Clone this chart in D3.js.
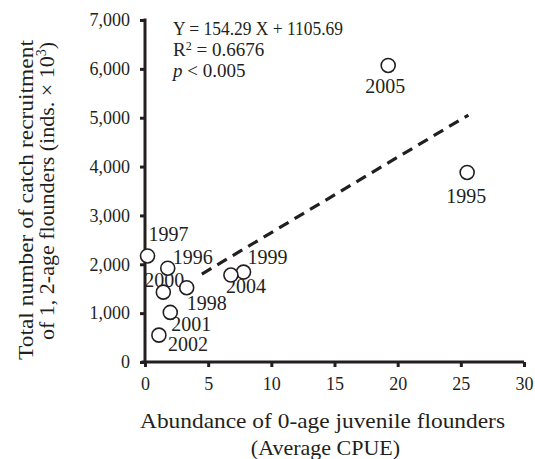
<!DOCTYPE html>
<html><head><meta charset="utf-8">
<script src="https://cdn.jsdelivr.net/npm/d3@7"></script>
<style>body{margin:0;background:#fff}svg{display:block}text{font-family:"Liberation Serif","Times New Roman",serif;fill:#231f20}</style>
</head><body>
<svg id="c" width="535" height="459"></svg>
<script>
const years = ["1995","1996","1997","1998","1999","2000","2001","2002","2004","2005"];
const cpue = [25.5, 1.8, 0.2, 3.3, 7.8, 1.45, 2.0, 1.1, 6.8, 19.25];
const recruitment = [3880, 1920, 2170, 1520, 1840, 1430, 1015, 550, 1780, 6070];
const xTicks = [0, 5, 10, 15, 20, 25, 30];
const yTicks = [0, 1000, 2000, 3000, 4000, 5000, 6000, 7000];
const slope = 154.29, intercept = 1105.69;
const fitRange = [4.5, 25.6];
const eqLines = ["Y = 154.29 X + 1105.69", "R2 = 0.6676", "p < 0.005"];
// label offsets relative to point (dx = left edge, dy = baseline)
const labelOffsets = {"1995":[-21,31],"1996":[5,-4],"1997":[1,-15],"1998":[0,22],"1999":[4,-8],"2000":[-19,-5],"2001":[1,19],"2002":[9,16],"2004":[-5,18],"2005":[-23,28]};

const svg = d3.select("#c");
const x = d3.scaleLinear().domain([0,30]).range([145,524]);
const y = d3.scaleLinear().domain([0,7000]).range([362,20]);

// axes
const xa = svg.append("g").attr("transform","translate(0,362)")
  .call(d3.axisBottom(x).tickValues(xTicks).tickSize(5).tickSizeOuter(0).tickPadding(10));
const ya = svg.append("g").attr("transform","translate(145,0)")
  .call(d3.axisLeft(y).tickValues(yTicks).tickSize(5).tickSizeOuter(0).tickPadding(10).tickFormat(d3.format(",")));
[xa,ya].forEach(a=>{
  a.select(".domain").attr("stroke","#231f20").attr("stroke-width",3);
  a.selectAll(".tick line").attr("stroke","#231f20").attr("stroke-width",3);
  a.selectAll(".tick text").style("font-size","18px").attr("fill","#231f20").style("font-family","Liberation Serif");
});
xa.select(".domain").attr("d","M141.5,0H524");
ya.select(".domain").attr("d","M0,18.5V362");

// regression line
svg.append("line")
  .attr("x1",x(fitRange[0])).attr("y1",y(slope*fitRange[0]+intercept))
  .attr("x2",x(fitRange[1])).attr("y2",y(slope*fitRange[1]+intercept))
  .attr("stroke","#231f20").attr("stroke-width",3.2).attr("stroke-dasharray","11,7");

// labels (drawn under circles)
svg.append("g").selectAll("text").data(years).join("text")
  .attr("x",(d,i)=>x(cpue[i])+labelOffsets[d][0])
  .attr("y",(d,i)=>y(recruitment[i])+labelOffsets[d][1])
  .style("font-size","20px").text(d=>d);

// points
svg.append("g").selectAll("circle").data(years).join("circle")
  .attr("cx",(d,i)=>x(cpue[i])).attr("cy",(d,i)=>y(recruitment[i])).attr("r",7)
  .attr("fill","#fff").attr("stroke","#231f20").attr("stroke-width",1.6);

// equation
const eq = svg.append("g").style("font-size","19px");
eq.append("text").attr("x",173).attr("y",35).attr("textLength",170).attr("lengthAdjust","spacingAndGlyphs").text(eqLines[0]);
const r2 = eq.append("text").attr("x",173).attr("y",56);
r2.append("tspan").text("R");
r2.append("tspan").attr("dy",-6).style("font-size","12px").text("2");
r2.append("tspan").attr("dy",6).text(" = 0.6676");
const pt = eq.append("text").attr("x",173).attr("y",77);
pt.append("tspan").style("font-style","italic").text("p");
pt.append("tspan").text(" < 0.005");

// axis titles
const xt = svg.append("text").attr("text-anchor","middle").style("font-size","22px");
xt.append("tspan").attr("x",322.5).attr("y",428).attr("textLength",365).attr("lengthAdjust","spacingAndGlyphs").text("Abundance of 0-age juvenile flounders");
xt.append("tspan").attr("x",325.5).attr("y",455).text("(Average CPUE)");

const yt = svg.append("g").attr("transform","translate(33,200) rotate(-90)");
yt.append("text").attr("text-anchor","middle").style("font-size","22px")
  .attr("textLength",320).attr("lengthAdjust","spacingAndGlyphs").text("Total number of catch recruitment");
const yt2 = svg.append("g").attr("transform","translate(54,191) rotate(-90)").append("text")
  .attr("text-anchor","middle").style("font-size","22px");
yt2.append("tspan").text("of 1, 2-age flounders (inds. × 10");
yt2.append("tspan").attr("dy",-8).style("font-size","14px").text("3");
yt2.append("tspan").attr("dy",8).text(")");
</script>
</body></html>
